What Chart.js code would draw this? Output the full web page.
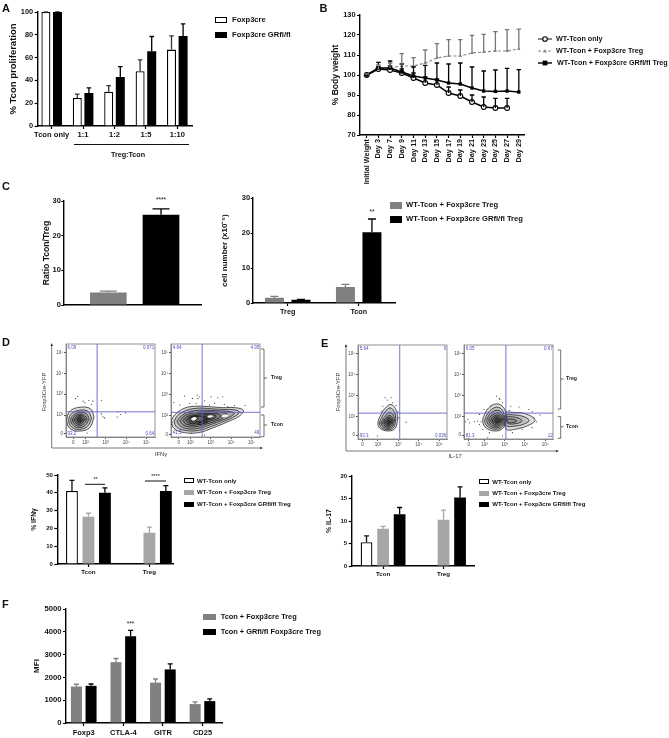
<!DOCTYPE html>
<html>
<head>
<meta charset="utf-8">
<script src="https://cdn.jsdelivr.net/npm/chart.js@4/dist/chart.umd.min.js"></script>
<style>
  html, body { margin: 0; padding: 0; background: #fff; }
  #page { position: relative; width: 669px; height: 738px; overflow: hidden; filter: blur(0.35px); }
  #page canvas, #page svg { position: absolute; }
  .txt { position: absolute; white-space: nowrap; font-family: "Liberation Sans", Arial, sans-serif; font-weight: bold; color: #111; transform: translateY(-50%); line-height: 1; }
  .swatch { position: absolute; box-sizing: border-box; }
</style>
</head>
<body>
<div id="page"></div>
<script>
// panel A
const aCats = ["Tcon only", "1:1", "1:2", "1:5", "1:10"];
const aFox = [100, 24.5, 30, 48, 67];
const aFoxErr = [0, 3.5, 5.5, 10, 12];
const aGr = [100, 29, 43, 65.5, 79];
const aGrErr = [0, 4.5, 9, 13, 10.5];

// panel B
const bCats = ["Initial Weight", "Day 3", "Day 7", "Day 9", "Day 11", "Day 13", "Day 15", "Day 17", "Day 19", "Day 21", "Day 23", "Day 25", "Day 27", "Day 29"];
const bTcon = [100, 103, 102.5, 101, 98.5, 96, 95, 91, 89.5, 86.5, 84, 83.5, 83.5, null];
const bTconErr = [0.5, 1, 2, 2, 2.5, 3, 3, 3, 3, 3.5, 5, 4.8, 4.8, null];
const bFox = [100, 103, 103.5, 104.5, 104.5, 106, 108.5, 109.5, 109.5, 111, 111.5, 112, 112, 113];
const bFoxErr = [0.5, 2, 2.5, 6.2, 4.2, 6.5, 7.2, 8.2, 8.2, 8.8, 8.8, 9.7, 10.7, 9.9];
const bGr = [100, 103.5, 103.5, 101.5, 99.5, 98.5, 97.5, 96, 95.5, 93.5, 92, 91.8, 92, 91.5];
const bGrErr = [0.5, 2.8, 3.5, 4, 4.5, 6.3, 8.5, 9.5, 10.5, 10.5, 10, 10.7, 11.3, 11.2];

// panel C
const cRatio = [3.6, 26];
const cRatioErr = [0.4, 1.7];
const cCats = ["Treg", "Tcon"];
const cFox = [1.5, 4.6];
const cFoxErr = [0.4, 0.7];
const cGr = [0.9, 20.2];
const cGrErr = [0.1, 3.8];

// panel D bars
const dCats = ["Tcon", "Treg"];
const dOnly = [41, null];
const dOnlyErr = [6, null];
const dFox = [26.5, 17.5];
const dFoxErr = [2, 3.2];
const dGr = [40, 41];
const dGrErr = [2.8, 3];

// panel E bars
const eCats = ["Tcon", "Treg"];
const eOnly = [5.3, null];
const eOnlyErr = [1.4, null];
const eFox = [8.3, 10.3];
const eFoxErr = [0.5, 2.1];
const eGr = [11.5, 15.2];
const eGrErr = [1.5, 2.4];

// panel F
const fCats = ["Foxp3", "CTLA-4", "GITR", "CD25"];
const fFox = [1600, 2670, 1770, 830];
const fFoxErr = [100, 160, 160, 100];
const fGr = [1630, 3800, 2350, 960];
const fGrErr = [80, 260, 240, 100];

// flow plots, x and y in decades (2 = 10^2)
const flowTickLabels = ["0", "10²", "10³", "10⁴", "10⁵"];

const d1Gates = ["6.09", "0.071", "93.2", "0.64"];
const d1Rings = [
  [[2.42,1.9],[2.25,2.3],[1.75,2.38],[1.25,2.2],[1.07,1.75],[1.25,1.35],[1.7,1.24],[2.2,1.4]],
  [[2.3,1.85],[2.12,2.18],[1.72,2.24],[1.32,2.08],[1.17,1.75],[1.32,1.42],[1.7,1.32],[2.1,1.47]],
  [[2.18,1.83],[2.03,2.08],[1.72,2.14],[1.4,2],[1.27,1.75],[1.4,1.5],[1.7,1.4],[2,1.53]],
  [[2.08,1.82],[1.95,2],[1.72,2.05],[1.46,1.95],[1.36,1.76],[1.46,1.57],[1.7,1.48],[1.93,1.6]],
  [[1.99,1.82],[1.88,1.96],[1.72,1.99],[1.52,1.9],[1.44,1.77],[1.52,1.63],[1.7,1.56],[1.86,1.66]],
  [[1.9,1.8],[1.82,1.9],[1.72,1.93],[1.58,1.86],[1.53,1.78],[1.58,1.68],[1.7,1.63],[1.82,1.7]],
  [[1.84,1.79],[1.78,1.86],[1.7,1.87],[1.62,1.83],[1.6,1.77],[1.64,1.71],[1.72,1.69],[1.8,1.73]],
  [[1.78,1.79],[1.72,1.83],[1.66,1.79],[1.7,1.74],[1.76,1.75]]
];
const d1Dots = [[1.61,2.9],[1.51,2.79],[1.88,2.67],[2.16,2.71],[2.37,2.67],[2.78,2.71],[1.97,2.59],[2.29,2.51],[2.78,2.06],[2.86,1.92],[2.94,1.87],[3.6,2.16],[3.73,2.03],[3.56,1.91],[3.97,2.11],[2.08,1.15]];

const d2Gates = ["4.64", "4.95", "41.5", "49"];
const d2Rings = [
  [[1.05,1.75],[1.25,2.05],[1.7,2.35],[2.3,2.45],[3,2.42],[3.6,2.38],[4.2,2.38],[4.6,2.25],[4.4,1.98],[3.8,1.7],[3.1,1.42],[2.4,1.2],[1.7,1.2],[1.2,1.4]],
  [[1.2,1.75],[1.4,2.02],[1.8,2.25],[2.4,2.36],[3,2.33],[3.6,2.3],[4.15,2.28],[4.4,2.18],[4.2,1.98],[3.7,1.75],[3.05,1.5],[2.4,1.3],[1.75,1.3],[1.32,1.47]],
  [[1.35,1.75],[1.55,1.98],[1.9,2.17],[2.45,2.26],[3,2.25],[3.6,2.22],[4,2.18],[4.15,2.1],[3.95,1.95],[3.55,1.78],[3,1.58],[2.4,1.4],[1.85,1.38],[1.48,1.53]],
  [[1.5,1.77],[1.68,1.96],[2,2.1],[2.5,2.18],[3,2.18],[3.5,2.15],[3.8,2.08],[3.7,1.95],[3.4,1.8],[2.95,1.65],[2.4,1.5],[1.95,1.47],[1.62,1.58]],
  [[1.65,1.78],[1.8,1.93],[2.1,2.04],[2.5,2.1],[3,2.1],[3.4,2.07],[3.5,1.98],[3.3,1.85],[2.9,1.72],[2.4,1.58],[2.05,1.55],[1.75,1.63]],
  [[1.78,1.8],[1.92,1.92],[2.2,2],[2.55,2.04],[3,2.04],[3.25,2],[3.2,1.9],[2.85,1.78],[2.4,1.66],[2.1,1.62],[1.88,1.68]],
  [[1.9,1.82],[2.05,1.95],[2.3,1.97],[2.6,1.97],[2.95,1.98],[3.05,1.92],[2.8,1.83],[2.4,1.72],[2.1,1.7],[1.95,1.74]],
  [[1.98,1.85],[2.15,1.93],[2.35,1.9],[2.3,1.8],[2.1,1.76]],
  [[2.6,1.9],[2.8,1.95],[3,1.94],[2.85,1.86],[2.65,1.84]],
  [[2.4,1.65],[2.7,1.72],[2.85,1.7],[2.6,1.6],[2.42,1.58]]
];
const d2Cores = [
  [[2.05,1.85],[2.17,1.92],[2.3,1.88],[2.22,1.8],[2.1,1.79]],
  [[2.85,1.97],[2.97,2],[3.1,1.98],[3,1.93],[2.88,1.93]],
  [[3.55,1.99],[3.7,2.03],[3.85,2.02],[3.72,1.95],[3.6,1.94]]
];
const d2Dots = [[1.72,2.93],[2.1,2.82],[2.34,2.98],[2.37,2.82],[2.46,2.9],[3.02,2.9],[3.35,2.85],[3.59,2.9],[1.19,2.62],[1.48,2.51],[1.97,2.59],[2.29,2.59],[2.7,2.71],[3.19,2.59],[2.94,2.51],[3.67,2.54],[3.84,2.43],[4.16,2.48],[4.68,2.48],[1.11,1.69],[1.07,1.59],[2.05,1.17],[2.7,1.08],[4.45,2.16]];

const e1Gates = ["5.64", "0", "93.3", "0.036"];
const e1Rings = [
  [[2.97,1.9],[2.9,2.3],[2.65,2.58],[2.35,2.4],[2.1,2],[2,1.7],[2.1,1.45],[2.5,1.32],[2.85,1.45]],
  [[2.88,1.9],[2.82,2.2],[2.6,2.42],[2.37,2.25],[2.18,1.95],[2.08,1.7],[2.18,1.48],[2.5,1.38],[2.78,1.5]],
  [[2.82,1.85],[2.76,2.08],[2.58,2.2],[2.38,2.05],[2.22,1.85],[2.15,1.7],[2.24,1.53],[2.5,1.44],[2.72,1.54]],
  [[2.76,1.82],[2.7,1.98],[2.56,2.06],[2.4,1.95],[2.28,1.82],[2.23,1.7],[2.3,1.58],[2.5,1.5],[2.67,1.58]],
  [[2.71,1.8],[2.66,1.93],[2.55,1.98],[2.42,1.9],[2.33,1.8],[2.3,1.7],[2.36,1.61],[2.5,1.56],[2.63,1.63]],
  [[2.66,1.78],[2.62,1.88],[2.54,1.91],[2.45,1.85],[2.39,1.77],[2.37,1.7],[2.42,1.65],[2.52,1.61],[2.6,1.67]],
  [[2.62,1.76],[2.58,1.83],[2.53,1.85],[2.47,1.8],[2.44,1.75],[2.45,1.69],[2.52,1.66],[2.58,1.7]],
  [[2.58,1.76],[2.54,1.8],[2.49,1.76],[2.51,1.71],[2.56,1.72]]
];
const e1Dots = [[2.36,2.9],[2.65,2.9],[2.46,2.79],[2.73,2.66],[2.89,2.53],[2.24,2.5],[2.16,2.27],[2.98,2.23],[3.02,1.95],[3.38,1.74],[1.97,1.08],[3.06,1.35]];

const e2Gates = ["6.05", "0.67", "81.3", "12"];
const e2Rings = [
  [[3.06,2.23],[3.5,2.2],[4.03,2.14],[4.5,1.85],[4.2,1.6],[3.5,1.4],[3.06,1.42]],
  [[3.08,2.1],[3.5,2.08],[3.95,2],[4.2,1.82],[3.95,1.65],[3.5,1.55],[3.08,1.58]],
  [[3.1,2],[3.5,1.98],[3.8,1.88],[3.85,1.78],[3.6,1.68],[3.25,1.65],[3.1,1.72]],
  [[3.12,1.88],[3.4,1.88],[3.6,1.8],[3.4,1.72],[3.15,1.74]],
  [[3.06,1.95],[3,2.35],[2.7,2.6],[2.3,2.5],[2,2.1],[1.92,1.75],[2.1,1.45],[2.6,1.32],[2.95,1.5]],
  [[3,1.95],[2.92,2.25],[2.68,2.45],[2.35,2.35],[2.1,2.05],[2.02,1.75],[2.2,1.5],[2.6,1.4],[2.9,1.55]],
  [[2.95,1.9],[2.88,2.15],[2.66,2.3],[2.38,2.22],[2.18,2],[2.12,1.77],[2.27,1.56],[2.6,1.47],[2.85,1.6]],
  [[2.9,1.88],[2.82,2.08],[2.65,2.18],[2.42,2.1],[2.25,1.95],[2.22,1.78],[2.34,1.62],[2.6,1.54],[2.8,1.65]],
  [[2.85,1.86],[2.78,2],[2.65,2.08],[2.46,2.02],[2.34,1.9],[2.32,1.78],[2.42,1.68],[2.6,1.6],[2.76,1.7]],
  [[2.8,1.85],[2.73,1.95],[2.65,2],[2.5,1.96],[2.42,1.87],[2.41,1.79],[2.48,1.72],[2.62,1.68],[2.73,1.75]],
  [[2.75,1.84],[2.69,1.92],[2.6,1.93],[2.52,1.88],[2.5,1.8],[2.56,1.74],[2.66,1.74],[2.72,1.78]],
  [[2.7,1.84],[2.64,1.88],[2.57,1.85],[2.57,1.79],[2.64,1.77],[2.69,1.8]]
];
const e2Dots = [[2.6,2.98],[2.76,2.82],[2.89,2.66],[2.73,2.87],[2.32,2.5],[1.98,2.34],[1.75,2.11],[1.83,1.76],[1.18,1.87],[1.05,1.76],[1.26,1.71],[1.75,1.63],[1.51,1.76],[3.3,2.5],[3.71,2.46],[4.2,2.34],[4.36,2.23],[4.74,2.08],[4.44,1.95],[4.57,1.76],[4.36,1.48],[3.87,1.4],[3.38,1.24],[2.89,1.08],[2.16,1],[2.24,1.24],[1.21,0.97],[1.92,1.4],[1.67,1.79],[3.22,2.3]];

const FONT = '"Liberation Sans", Arial, sans-serif';
const page = document.getElementById("page");
Chart.defaults.font.family = FONT;
Chart.defaults.animation = false;
Chart.defaults.responsive = false;
Chart.defaults.devicePixelRatio = 1;
Chart.defaults.plugins.legend.display = false;
Chart.defaults.plugins.tooltip.enabled = false;

const errorBars = {
  id: "errorBars",
  afterDatasetsDraw(chart) {
    const ctx = chart.ctx;
    chart.data.datasets.forEach((ds, d) => {
      if (!ds.errs) return;
      chart.getDatasetMeta(d).data.forEach((el, i) => {
        if (ds.errs[i] == null || ds.data[i].y == null) return;
        const top = chart.scales.y.getPixelForValue(ds.data[i].y + ds.errs[i]);
        const base = chart.scales.y.getPixelForValue(ds.data[i].y);
        ctx.save();
        ctx.strokeStyle = Array.isArray(ds.errColor) ? ds.errColor[i] : ds.errColor;
        ctx.lineWidth = 1.3;
        ctx.beginPath();
        ctx.moveTo(el.x, base);
        ctx.lineTo(el.x, top);
        ctx.moveTo(el.x - ds.cap / 2, top);
        ctx.lineTo(el.x + ds.cap / 2, top);
        ctx.stroke();
        ctx.restore();
      });
    });
  }
};

const frame = {
  id: "frame",
  afterDraw(chart) {
    const a = chart.chartArea;
    chart.ctx.save();
    chart.ctx.strokeStyle = "#777";
    chart.ctx.lineWidth = 0.8;
    chart.ctx.strokeRect(a.left, a.top, a.right - a.left, a.bottom - a.top);
    chart.ctx.restore();
  }
};

function addCanvas(left, top, width, height) {
  const c = document.createElement("canvas");
  c.width = width;
  c.height = height;
  c.style.left = left + "px";
  c.style.top = top + "px";
  page.appendChild(c);
  return c;
}

function toXY(values) {
  return values.map((v, i) => ({ x: i, y: v }));
}

// y and x scale options shared by the bar panels and panel B
function axes(p) {
  const pad = 8;
  const canvasLeft = Math.round(p.titleX - 0.6 * p.titleSize);
  const marginLeft = p.left - canvasLeft;
  const marginBottom = p.bottomSpace;
  return {
    canvasLeft,
    pad,
    canvasTop: p.top - pad,
    canvasWidth: Math.ceil(marginLeft + (p.right - p.left) + pad),
    canvasHeight: Math.ceil(pad + (p.bottom - p.top) + marginBottom),
    scales: {
      x: {
        type: "linear",
        offset: false,
        min: (p.left - p.c0) / p.spacing,
        max: (p.right - p.c0) / p.spacing,
        afterBuildTicks: s => { s.ticks = p.cats.map((_, i) => ({ value: i })); },
        afterFit: s => { s.height = marginBottom; },
        border: { color: "#000", width: 1.4 },
        grid: { offset: false, drawOnChartArea: false, drawTicks: !p.noXTicks, tickLength: 3, tickColor: "#000", tickWidth: 1.2 },
        ticks: {
          display: !p.noXTicks,
          autoSkip: false,
          padding: p.xPad || 2,
          color: "#111",
          minRotation: p.rotate || 0,
          maxRotation: p.rotate || 0,
          font: { size: p.xSize, weight: "bold" },
          callback: v => p.cats[v]
        }
      },
      y: {
        min: p.yMin || 0,
        max: p.yMax,
        afterFit: s => { s.width = marginLeft; },
        border: { color: "#000", width: 1.4 },
        grid: { drawOnChartArea: false, tickLength: p.yTick || 3, tickColor: "#000", tickWidth: 1.2 },
        ticks: { stepSize: p.yStep, padding: p.yPad === undefined ? 1.5 : p.yPad, color: "#111", font: { size: p.ySize, weight: "bold" }, callback: v => String(v) },
        title: { display: true, text: p.title, padding: 0, color: "#111", font: { size: p.titleSize, weight: "bold" } }
      }
    }
  };
}

function barPanel(p) {
  const ax = axes(p);
  const c = addCanvas(ax.canvasLeft, ax.canvasTop, ax.canvasWidth, ax.canvasHeight);
  const n = p.series.length;
  new Chart(c, {
    type: "bar",
    data: {
      datasets: p.series.map(s => ({
        data: toXY(s.values),
        errs: s.errs,
        errColor: s.errColor || s.fill,
        cap: p.cap,
        backgroundColor: s.fill,
        borderColor: "#000",
        borderWidth: s.fill === "#fff" ? 1.3 : 0,
        categoryPercentage: n * p.slot / p.spacing,
        barPercentage: p.bar / p.slot
      }))
    },
    options: { layout: { padding: { top: ax.pad, right: ax.pad } }, scales: ax.scales },
    plugins: [errorBars]
  });
}

function flowPanel(p) {
  const mL = 16, mB = 10, mT = 4, mR = 4;
  const c = addCanvas(p.left - mL, p.top - mT, p.right - p.left + mL + mR, p.bottom - p.top + mT + mB);
  const xMin = 2 + (p.left - p.x2) / p.xDec, xMax = 2 + (p.right - p.x2) / p.xDec;
  const yMin = 2 - (p.bottom - p.y2) / p.yDec, yMax = 2 + (p.y2 - p.top) / p.yDec;
  const ringSet = (r, fillColor, lineColor) => ({
    data: [...r, r[0]].map(q => ({ x: q[0], y: q[1] })),
    showLine: true, tension: 0.4, pointRadius: 0, borderColor: lineColor, borderWidth: 0.75,
    fill: "shape", backgroundColor: fillColor
  });
  const gate = (a, b) => ({ data: [a, b], showLine: true, pointRadius: 0, borderColor: "#6464cc", borderWidth: 0.9 });
  new Chart(c, {
    type: "scatter",
    data: {
      datasets: [
        gate({ x: p.gateX, y: yMin }, { x: p.gateX, y: yMax }),
        gate({ x: xMin, y: p.gateY }, { x: xMin === xMax ? xMax : xMax, y: p.gateY }),
        ...(p.cores || []).map(r => ringSet(r, "#fff", "#fff")),
        ...p.rings.map(r => ringSet(r, "rgba(0,0,0,0.13)", "#1a1a1a")),
        { data: p.dots.map(q => ({ x: q[0], y: q[1] })), pointRadius: 0.55, backgroundColor: "#222", borderWidth: 0 }
      ]
    },
    options: {
      layout: { padding: { top: mT, right: mR } },
      scales: {
        x: {
          type: "linear", min: xMin, max: xMax,
          afterBuildTicks: s => { s.ticks = [p.x0, 2, 3, 4, 5].map(value => ({ value })); },
          afterFit: s => { s.height = mB; },
          border: { color: "#777", width: 0.8 },
          grid: { drawOnChartArea: false, tickLength: 2, tickColor: "#555" },
          ticks: { autoSkip: false, padding: 1, color: "#444", maxRotation: 0, font: { size: 4.5 }, callback: (v, i) => flowTickLabels[i] }
        },
        y: {
          min: yMin, max: yMax,
          afterBuildTicks: s => { s.ticks = [p.y0, 2, 3, 4, 5].map(value => ({ value })); },
          afterFit: s => { s.width = mL; },
          border: { color: "#777", width: 0.8 },
          grid: { drawOnChartArea: false, tickLength: 2, tickColor: "#555" },
          ticks: { autoSkip: false, padding: 1, color: "#444", font: { size: 4.5 }, callback: (v, i) => flowTickLabels[i] }
        }
      }
    },
    plugins: [frame]
  });
  const g = p.gates;
  label(p.left + 1.5, p.top + 4, g[0], 4.5, { color: "#4a4ac0", weight: "normal" });
  label(p.right - 1.5, p.top + 4, g[1], 4.5, { color: "#4a4ac0", weight: "normal", alignRight: true });
  label(p.left + 1.5, p.bottom - 4, g[2], 4.5, { color: "#4a4ac0", weight: "normal" });
  label(p.right - 1.5, p.bottom - 4, g[3], 4.5, { color: "#4a4ac0", weight: "normal", alignRight: true });
}

function label(x, y, text, size, o) {
  o = o || {};
  const d = document.createElement("div");
  d.className = "txt";
  d.textContent = text;
  d.style.top = y + "px";
  d.style.fontSize = size + "px";
  if (o.alignRight) d.style.right = (669 - x) + "px";
  else d.style.left = x + "px";
  if (o.center) d.style.transform = "translate(-50%,-50%)";
  if (o.rotate) d.style.transform = "translate(-50%,-50%) rotate(-90deg)";
  if (o.color) d.style.color = o.color;
  if (o.weight) d.style.fontWeight = o.weight;
  page.appendChild(d);
}

function swatch(x, y, w, h, fill) {
  const d = document.createElement("div");
  d.className = "swatch";
  d.style.cssText = `left:${x}px;top:${y - h / 2}px;width:${w}px;height:${h}px;background:${fill};` + (fill === "#fff" ? "border:1.2px solid #000;" : "");
  page.appendChild(d);
}

function legend(names, fills, swX, swW, swH, txtX, ys, size) {
  names.forEach((name, i) => {
    swatch(swX, ys[i], swW, swH, fills[i]);
    label(txtX, ys[i], name, size);
  });
}

const GRAY = "#808080", LIGHT = "#a6a6a6", BLACK = "#000", WHITE = "#fff";

// A
barPanel({
  cats: aCats, left: 37.7, right: 192, top: 12, bottom: 125.7, c0: 51.7, spacing: 31.4, slot: 11.6, bar: 9, cap: 4.5,
  yMax: 100, yStep: 20, title: "% Tcon proliferation", titleX: 14, titleSize: 9.5, ySize: 7.4, xSize: 7.6, bottomSpace: 20, xPad: 1.5,
  series: [
    { values: aFox, errs: aFoxErr, fill: WHITE, errColor: "#333" },
    { values: aGr, errs: aGrErr, fill: BLACK }
  ]
});
legend(["Foxp3cre", "Foxp3cre GRfl/fl"], [WHITE, BLACK], 215, 12, 6, 232, [19.5, 35], 7.6);
label(128, 155, "Treg:Tcon", 7.2, { center: true });

// B
(function () {
  const p = { cats: bCats, left: 360, right: 524, top: 15, bottom: 134.7, c0: 366.7, spacing: 11.7, yMin: 70, yMax: 130, yStep: 10,
    title: "% Body weight", titleX: 336, titleSize: 8.5, ySize: 7.4, xSize: 7.3, bottomSpace: 52, rotate: 90, xPad: 1 };
  const ax = axes(p);
  const c = addCanvas(ax.canvasLeft, ax.canvasTop, ax.canvasWidth, ax.canvasHeight);
  new Chart(c, {
    type: "line",
    data: {
      datasets: [
        { data: toXY(bGr), errs: bGrErr, errColor: "#000", cap: 4.5, borderColor: "#000", borderWidth: 1.5, pointStyle: "rect", pointRadius: 2.4, pointBackgroundColor: "#000", pointBorderWidth: 0, spanGaps: false },
        { data: toXY(bTcon), errs: bTconErr, errColor: "#000", cap: 4.5, borderColor: "#000", borderWidth: 1.5, pointRadius: 2.4, pointBackgroundColor: "#fff", pointBorderColor: "#000", pointBorderWidth: 1.1 },
        { data: toXY(bFox), errs: bFoxErr, errColor: "#777", cap: 4.5, borderColor: "#888", borderWidth: 1.2, borderDash: [3, 2], pointStyle: "triangle", pointRadius: 2, pointBackgroundColor: "#888", pointBorderWidth: 0 }
      ]
    },
    options: { layout: { padding: { top: ax.pad, right: ax.pad } }, scales: ax.scales },
    plugins: [errorBars]
  });
})();
label(556, 39, "WT-Tcon only", 7.2);
label(556, 50.5, "WT-Tcon + Foxp3cre Treg", 7.2);
label(557, 63, "WT-Tcon + Foxp3cre GRfl/fl Treg", 7.2);

// C left
barPanel({
  cats: ["", ""], left: 63.3, right: 201, top: 201, bottom: 305, c0: 108.3, spacing: 52.7, slot: 52.7, bar: 36.7, cap: 17, noXTicks: true,
  yMax: 30, yStep: 10, title: "Ratio Tcon/Treg", titleX: 46, titleSize: 8.6, ySize: 7.5, xSize: 7.5, bottomSpace: 6, yTick: 2, yPad: 0.5,
  series: [{ values: cRatio, errs: cRatioErr, fill: [GRAY, BLACK], errColor: [GRAY, BLACK] }]
});
label(161, 199.5, "****", 6.5, { center: true, weight: "normal" });

// C right
barPanel({
  cats: cCats, left: 252.7, right: 395, top: 197.7, bottom: 302.7, c0: 287.7, spacing: 71, slot: 26.5, bar: 19, cap: 8,
  yMax: 30, yStep: 10, title: "cell number (x10⁻⁵)", titleX: 225, titleSize: 8, ySize: 7.5, xSize: 7.2, bottomSpace: 18, yTick: 2, yPad: 0.5,
  series: [
    { values: cFox, errs: cFoxErr, fill: GRAY },
    { values: cGr, errs: cGrErr, fill: BLACK }
  ]
});
label(372, 211.7, "**", 6.5, { center: true, weight: "normal" });
legend(["WT-Tcon + Foxp3cre Treg", "WT-Tcon + Foxp3cre GRfl/fl Treg"], [GRAY, BLACK], 390, 12, 7, 406, [205, 219], 7.6);

// D flow
flowPanel({ left: 66, right: 155.7, top: 344, bottom: 437.7, x2: 85.7, xDec: 20.45, y2: 415.7, yDec: 21.1, x0: 1.39, y0: 1.12, gateX: 2.57, gateY: 2.16, rings: d1Rings, dots: d1Dots, gates: d1Gates });
flowPanel({ left: 171.3, right: 260.7, top: 344, bottom: 437, x2: 190.7, xDec: 20.5, y2: 415.7, yDec: 21.1, x0: 1.43, y0: 1.12, gateX: 2.58, gateY: 2.16, rings: d2Rings, cores: d2Cores, dots: d2Dots, gates: d2Gates });
label(45, 392, "Foxp3Cre-YFP", 5.8, { rotate: true, weight: "normal", color: "#333" });
label(161, 455, "IFNγ", 5.8, { center: true, weight: "normal", color: "#333" });
label(271, 378, "Treg", 5.2, { color: "#222" });
label(271, 425, "Tcon", 5.2, { color: "#222" });

// E flow
flowPanel({ left: 358.3, right: 447.7, top: 345.3, bottom: 439.7, x2: 378.3, xDec: 20.5, y2: 417.3, yDec: 21.1, x0: 1.24, y0: 1.12, gateX: 3.07, gateY: 2.17, rings: e1Rings, dots: e1Dots, gates: e1Gates });
flowPanel({ left: 464.3, right: 554.3, top: 345.3, bottom: 439.7, x2: 485, xDec: 20.45, y2: 417.3, yDec: 21.1, x0: 1.22, y0: 1.12, gateX: 3.06, gateY: 2.17, rings: e2Rings, dots: e2Dots, gates: e2Gates });
label(339, 392, "Foxp3Cre-YFP", 5.8, { rotate: true, weight: "normal", color: "#333" });
label(455, 456.7, "IL-17", 5.8, { center: true, weight: "normal", color: "#333" });
label(566, 379, "Treg", 5.2, { color: "#222" });
label(566, 426.7, "Tcon", 5.2, { color: "#222" });

// D bars
barPanel({
  cats: dCats, left: 57.3, right: 172.5, top: 475.3, bottom: 564.3, c0: 88.3, spacing: 60.7, slot: 16.4, bar: 11.8, cap: 5,
  yMax: 50, yStep: 10, title: "% IFNγ", titleX: 34, titleSize: 6.8, ySize: 6, xSize: 6.2, bottomSpace: 14,
  series: [
    { values: dOnly, errs: dOnlyErr, fill: WHITE, errColor: "#111" },
    { values: dFox, errs: dFoxErr, fill: LIGHT },
    { values: dGr, errs: dGrErr, fill: BLACK }
  ]
});
legend(["WT-Tcon only", "WT-Tcon + Foxp3cre Treg", "WT-Tcon + Foxp3cre GRfl/fl Treg"], [WHITE, LIGHT, BLACK], 183.7, 10, 5, 197, [480.7, 492.3, 504], 6.1);
label(95.6, 479.5, "**", 5.5, { center: true, weight: "normal" });
label(155.5, 476.5, "****", 5.5, { center: true, weight: "normal" });

// E bars
barPanel({
  cats: eCats, left: 351.7, right: 473.7, top: 475.7, bottom: 565, c0: 383, spacing: 60.3, slot: 16.5, bar: 11.7, cap: 5,
  yMax: 20, yStep: 5, title: "% IL-17", titleX: 329, titleSize: 6.8, ySize: 6, xSize: 6.2, bottomSpace: 14,
  series: [
    { values: eOnly, errs: eOnlyErr, fill: WHITE, errColor: "#111" },
    { values: eFox, errs: eFoxErr, fill: LIGHT },
    { values: eGr, errs: eGrErr, fill: BLACK }
  ]
});
legend(["WT-Tcon only", "WT-Tcon + Foxp3cre Treg", "WT-Tcon + Foxp3cre GRfl/fl Treg"], [WHITE, LIGHT, BLACK], 478.7, 10, 5, 492.3, [481.7, 493, 504.3], 6.05);

// F
barPanel({
  cats: fCats, left: 66, right: 221.7, top: 609, bottom: 722.3, c0: 83.7, spacing: 39.5, slot: 14.6, bar: 11, cap: 5,
  yMax: 5000, yStep: 1000, title: "MFI", titleX: 37, titleSize: 8, ySize: 7.7, xSize: 7.5, bottomSpace: 16,
  series: [
    { values: fFox, errs: fFoxErr, fill: GRAY },
    { values: fGr, errs: fGrErr, fill: BLACK }
  ]
});
label(130.5, 623.5, "***", 6.5, { center: true, weight: "normal" });
legend(["Tcon + Foxp3cre Treg", "Tcon + GRfl/fl Foxp3cre Treg"], [GRAY, BLACK], 203, 13, 6, 220.7, [616.7, 631.7], 7.4);

// panel letters
[["A", 2, 8], ["B", 319.5, 8], ["C", 2, 186], ["D", 2, 342], ["E", 321, 342.7], ["F", 2, 604]].forEach(l => label(l[1], l[2], l[0], 11));

// lines that are not data: underline, arrows, brackets, legend keys
const svg = `<svg width="669" height="738" style="left:0;top:0" fill="none" stroke="#111" stroke-width="1">
  <path d="M74 144.5H189" stroke-width="1.1"/>
  <path d="M85 484.3H105M145 481H166"/>
  <path d="M51.7 448V346M346 451V347M51.7 448H261M346 451H557" stroke="#555" stroke-width="0.8"/>
  <path d="M51.7 343l-1.3 3h2.6zM263 448l-3-1.3v2.6zM346 344l-1.3 3h2.6zM559 451l-3-1.3v2.6z" fill="#333" stroke="none"/>
  <path d="M261 349H264V407H261M264 378H267M261 415H264V436.7H261M264 425H267" stroke-width="0.7" stroke="#333"/>
  <path d="M557.7 350H560.7V409H557.7M560.7 379H563.7M557.7 416.7H560.7V438.3H557.7M560.7 426.7H563.7" stroke-width="0.7" stroke="#333"/>
  <path d="M538 39H552"/>
  <path d="M538 51H552" stroke="#888" stroke-width="1.1" stroke-dasharray="3 2"/>
  <path d="M538 63H552" stroke-width="1.5"/>
  <circle cx="545" cy="39" r="2.3" fill="#fff" stroke="#000" stroke-width="1.1"/>
  <path d="M545 49l2 3.4h-4z" fill="#888" stroke="none"/>
  <rect x="542.6" y="60.6" width="4.8" height="4.8" fill="#000" stroke="none"/>
</svg>`;
page.insertAdjacentHTML("beforeend", svg);
</script>
</body>
</html>
